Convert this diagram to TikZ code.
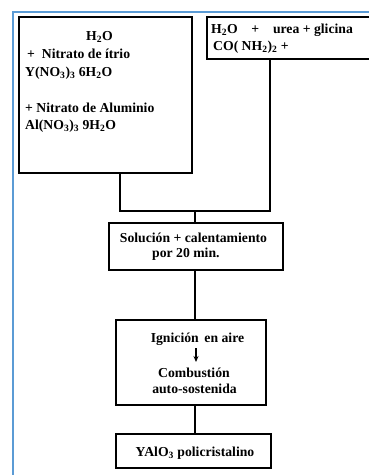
\documentclass[tikz,border=0pt]{standalone}
\usepackage{fontspec}
\setmainfont{Liberation Serif}
\usetikzlibrary{positioning, arrows.meta, calc}
\definecolor{frameblue}{RGB}{91,155,213}
\tikzset{
	box/.style={draw, line width=1.2pt, inner sep=0pt}, % the rectangles of the flow chart
	txt/.style={anchor=base west, inner sep=0pt, font=\fontsize{13.7}{16}\bfseries}, % left aligned lines of text
	ctxt/.style={anchor=base, inner sep=0pt, font=\fontsize{13.7}{16}\bfseries}, % centred lines of text
	link/.style={line width=1.2pt}, % the connectors between the boxes
}

\begin{document}
\begin{tikzpicture}[x=1pt, y=-1pt]
		\useasboundingbox (0,0) rectangle (369,475);
		\clip (0,0) rectangle (369,475);
		\draw[frameblue, line width=2pt] (13,12) rectangle (420,520);

		% boxes
		\node[box, minimum width=173pt, minimum height=156pt] (mix) at (105.5,95) {};
		\node[box, minimum width=170pt, minimum height=42pt] (fuel) at (292,38) {};
		\node[box, minimum width=174pt, minimum height=47pt] (sol) at (196,246.5) {};
		\node[box, minimum width=150pt, minimum height=85pt] (ign) at (191,362.5) {};
		\node[box, minimum width=155pt, minimum height=34pt] (yalo) at (193.5,451) {};

		% texts
		\node[ctxt] (t1) at (99.5,40) {H\textsubscript{2}O};
		\node[txt] (t2) at (27,58) {+\ \ Nitrato de ítrio};
		\node[txt] (t3) at (25,76) {Y(NO\textsubscript{3})\textsubscript{3} 6H\textsubscript{2}O};
		\node[txt] (t4) at (25,112) {+ Nitrato de Aluminio};
		\node[txt] (t5) at (25,129) {Al(NO\textsubscript{3})\textsubscript{3} 9H\textsubscript{2}O};
		\node[txt] (t6) at (211,33) {H\textsubscript{2}O\quad+\quad urea + glicina};
		\node[txt] (t7) at (213,50) {CO( NH\textsubscript{2})\textsubscript{2} +};
		\node[ctxt] (t8) at (193.5,242) {Solución + calentamiento};
		\node[txt] (t9) at (152,257) {por 20 min.};
		\node[ctxt] (t10) at (197.5,342) {Ignición\, en aire};
		\node[ctxt] (t11) at (194,377) {Combustión};
		\node[ctxt] (t12) at (194.5,393) {auto-sostenida};
		\node[ctxt] (t13) at (195,456) {YAlO\textsubscript{3} policristalino};

		% connectors
		\coordinate (jl) at (120,211);
		\coordinate (jr) at (270,211);
		\coordinate (jm) at (195,211);
		\draw[link] (mix.south -| jl) -- (jl) -- (jr) -- (fuel.south -| jr);
		\draw[link] (jm) -- (sol.north -| jm);
		\draw[link] (sol.south -| jm) -- (ign.north -| jm);
		\draw[link] (ign.south -| jm) -- (yalo.north -| jm);
		\draw[line width=1.3pt, -{Stealth[length=6pt, width=5pt]}] ($(t10.base)+(-1.5,6)$) -- ($(t11.base)+(2,-15)$);
	\end{tikzpicture}
\end{document}
